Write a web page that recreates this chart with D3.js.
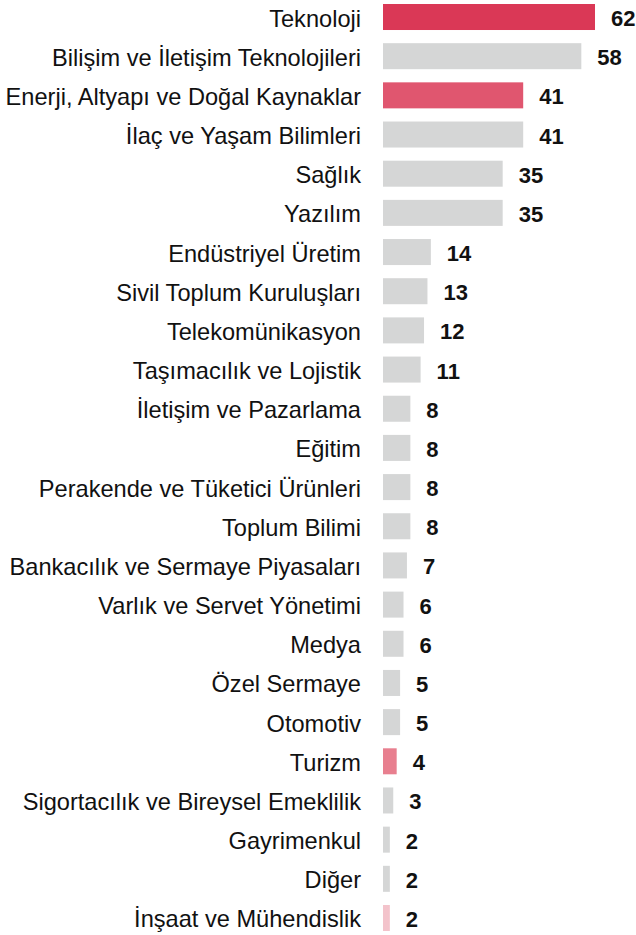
<!DOCTYPE html>
<html>
<head>
<meta charset="utf-8">
<script src="https://cdn.jsdelivr.net/npm/d3@7"></script>
<style>
  html, body { margin: 0; padding: 0; background: #fff; }
  svg { display: block; }
</style>
</head>
<body>
<svg id="chart" width="636" height="935"></svg>
<script>
const categories = [
  "Teknoloji",
  "Bilişim ve İletişim Teknolojileri",
  "Enerji, Altyapı ve Doğal Kaynaklar",
  "İlaç ve Yaşam Bilimleri",
  "Sağlık",
  "Yazılım",
  "Endüstriyel Üretim",
  "Sivil Toplum Kuruluşları",
  "Telekomünikasyon",
  "Taşımacılık ve Lojistik",
  "İletişim ve Pazarlama",
  "Eğitim",
  "Perakende ve Tüketici Ürünleri",
  "Toplum Bilimi",
  "Bankacılık ve Sermaye Piyasaları",
  "Varlık ve Servet Yönetimi",
  "Medya",
  "Özel Sermaye",
  "Otomotiv",
  "Turizm",
  "Sigortacılık ve Bireysel Emeklilik",
  "Gayrimenkul",
  "Diğer",
  "İnşaat ve Mühendislik"
];
const values = [62, 58, 41, 41, 35, 35, 14, 13, 12, 11, 8, 8, 8, 8, 7, 6, 6, 5, 5, 4, 3, 2, 2, 2];
// highlight level per category: 0 = grey, otherwise red intensity level
const highlight = [1, 0, 2, 0, 0, 0, 0, 0, 0, 0, 0, 0, 0, 0, 0, 0, 0, 0, 0, 3, 0, 0, 0, 4];
const palette = ["#d5d6d6", "#da3856", "#e0566f", "#e87f8f", "#f3c3cb"];

const data = categories.map((c, i) => ({ cat: c, val: values[i], hl: highlight[i] }));

const svg = d3.select("#chart");
const x = d3.scaleLinear().domain([0, 62]).range([383, 595]);
const y = d3.scaleBand().domain(categories).range([4, 931]).paddingInner(0.336).paddingOuter(0);

svg.selectAll("rect.bar")
  .data(data)
  .join("rect")
  .attr("class", "bar")
  .attr("x", x(0))
  .attr("y", d => y(d.cat))
  .attr("width", d => x(d.val) - x(0))
  .attr("height", y.bandwidth())
  .attr("fill", d => palette[d.hl]);

svg.selectAll("text.label")
  .data(data)
  .join("text")
  .attr("class", "label")
  .attr("x", 361)
  .attr("y", d => y(d.cat) + y.bandwidth() / 2 + 9.5)
  .attr("text-anchor", "end")
  .attr("font-family", "'Liberation Sans', Arial, Helvetica, sans-serif")
  .attr("font-size", 23.6)
  .attr("fill", "#111")
  .text(d => d.cat);

svg.selectAll("text.value")
  .data(data)
  .join("text")
  .attr("class", "value")
  .attr("x", d => x(d.val) + 16)
  .attr("y", d => y(d.cat) + y.bandwidth() / 2 + 9)
  .attr("text-anchor", "start")
  .attr("font-family", "'Liberation Sans', Arial, Helvetica, sans-serif")
  .attr("font-weight", "bold")
  .attr("font-size", 22)
  .attr("fill", "#111")
  .text(d => d.val);
</script>
</body>
</html>
